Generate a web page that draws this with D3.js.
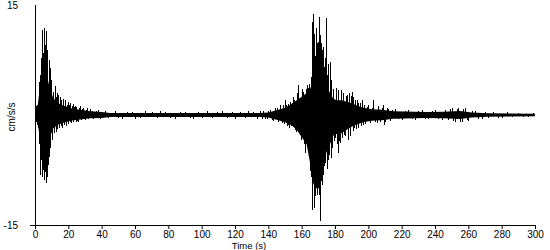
<!DOCTYPE html>
<html>
<head>
<meta charset="utf-8">
<script src="https://cdn.jsdelivr.net/npm/d3@7"></script>
<style>
  body { margin: 0; background: #fff; }
  svg text { font-family: "Liberation Sans", Arial, sans-serif; font-size: 10px; fill: #000; }
</style>
</head>
<body>
<div id="chart"></div>
<script>
// Solid core of the trace (cm/s/s)
var envTime  = [0, 1.5, 2.5, 3.5, 4.5, 6, 7.5, 9, 11, 14, 18, 22, 27, 33, 40, 45, 135, 140, 146, 150,
  154, 157, 160, 163, 165, 166.5, 168, 170.5, 171.5, 173, 175, 177, 179, 181, 184, 187, 190, 193, 197, 202,
  208, 215, 235, 245, 255, 262, 272, 300];
var envUpper = [0.6, 1.0, 3.0, 5.0, 6.0, 6.0, 5.0, 3.5, 2.3, 1.6, 1.2, 0.9, 0.7, 0.5, 0.4, 0.28, 0.28, 0.35, 0.7, 1.0,
  1.5, 2.0, 2.5, 3.0, 3.5, 4.5, 5.0, 5.0, 4.5, 4.5, 4.0, 3.0, 2.2, 2.0, 2.0, 1.8, 1.6, 1.3, 1.0, 0.8,
  0.7, 0.5, 0.4, 0.45, 0.55, 0.35, 0.25, 0.18];
var envLower = [-0.6, -0.8, -2.5, -4.5, -5.5, -6.0, -5.0, -3.0, -1.8, -1.3, -1.0, -0.75, -0.6, -0.45, -0.4, -0.28, -0.28, -0.35, -0.7, -1.0,
  -1.4, -2.0, -3.0, -4.0, -6.5, -9.0, -10.0, -10.0, -8.5, -6.5, -5.0, -4.0, -2.8, -2.6, -2.5, -2.0, -1.6, -1.3, -1.0, -0.8,
  -0.7, -0.5, -0.4, -0.45, -0.55, -0.35, -0.25, -0.18];

// Peaks sticking out of the core, [time s, value cm/s/s]
var earlySpikes = [[0.3,1.2],[0.6,-1.0],[0.9,1.4],[1.2,-1.3],[1.5,1.6],[1.8,-1.8],[2.1,3.0],[2.4,4.5],[2.6,-4.0],[2.8,-8.2],
  [3.0,5.5],[3.2,-5.0],[3.4,7.8],[3.6,-6.1],[3.8,6.5],[4.0,9.0],[4.2,-8.4],[4.4,11.6],[4.6,-6.5],[4.8,-7.5],
  [5.0,8.5],[5.2,7.0],[5.4,11.8],[5.6,-8.9],[5.8,-7.0],[6.0,9.5],[6.2,-7.8],[6.4,-9.3],[6.6,11.4],[6.8,7.5],
  [7.0,-8.4],[7.2,8.9],[7.4,6.8],[7.6,-6.8],[7.8,-5.5],[8.1,7.5],[8.3,-5.7],[8.5,5.5],[8.8,6.4],[9.0,-4.0],
  [9.2,-4.5],[9.5,4.0],[9.8,4.8],[10.0,-3.0],[10.2,-3.4],[10.5,3.0],[10.8,3.2],[11.1,-2.4],[11.5,-2.5],[11.8,2.6],
  [12.0,3.9],[12.3,-2.0],[12.5,-2.3],[12.8,2.4],[13.0,3.0],[13.4,-1.9],[13.8,2.7],[14.1,-1.6],[14.5,-1.8],[14.8,2.0],
  [15.0,2.4],[15.4,-1.5],[15.8,2.0],[16.2,-1.8],[16.6,1.8],[17.0,2.2],[17.4,-1.4],[17.8,2.0],[18.2,1.5],[18.5,-1.5],
  [19.0,1.4],[19.5,1.8],[20.0,-1.2],[20.4,1.3],[20.8,1.6],[21.2,-1.0],[21.5,-1.1],[22.0,1.2],[22.5,1.5],[23.0,-0.9],
  [23.5,1.1],[24.0,1.2],[24.4,-0.9],[24.8,1.1],[25.4,-0.8],[26.0,-0.9],[26.5,0.9],[27.0,1.2],[27.6,-0.7],[28.2,0.8],
  [28.8,1.0],[29.4,-0.6],[30.0,-0.7],[30.5,0.7],[31.0,0.9],[32.0,-0.6],[33.0,0.8],[34,0.6],[35,-0.6],[36.5,0.5],
  [38,0.7],[39,-0.5],[42,0.6],[44,-0.45]];
var quietSpikes = [[48,0.6],[50,-0.4],[52,-0.5],[55,0.4],[58,0.45],[60,-0.5],[63,-0.4],[66,0.5],[70,0.4],[73,-0.4],
  [75,0.5],[78,0.4],[81,-0.45],[84,-0.5],[87,0.4],[90,0.45],[93,-0.4],[95,-0.5],[98,0.4],[100,-0.4],
  [103,0.5],[106,-0.45],[109,0.4],[112,0.5],[115,-0.4],[118,0.4],[120,-0.5],[123,0.45],[126,-0.4],[128,0.5],
  [131,0.4],[133,-0.5]];
var mainSpikes = [[135,0.5],[136,-0.5],[137,0.6],[138,-0.5],[139,-0.6],[140,0.6],[141,0.7],[142,-0.7],[143,-0.8],[144,0.9],
  [145,1.0],[146,-0.9],[147,1.3],[148,-1.1],[149,1.3],[149.5,-1.2],[150,2.0],[150.5,1.4],[151,-1.5],[151.5,-1.3],
  [152,1.5],[152.5,-1.8],[153,1.8],[153.5,-1.5],[154,1.7],[154.5,-1.6],[155,2.5],[155.5,2.0],[156,-2.0],[156.5,-2.3],
  [157,3.0],[157.5,2.4],[158,4.1],[158.5,-2.4],[159,-2.6],[159.5,-3.4],[160,3.6],[160.5,2.9],[161,3.2],[161.5,-4.0],
  [162,-5.2],[162.5,3.5],[163,4.1],[163.5,-4.5],[164,3.7],[164.5,4.2],[165,-7.7],[165.3,5.2],[165.7,-8.5],[166,-13.0],
  [166.4,12.7],[166.7,7.5],[167,13.8],[167.2,-12.7],[167.6,11.1],[167.9,8.0],[168,-11.0],[168.3,7.0],[168.6,11.9],[169,9.8],
  [169.2,6.5],[169.4,-10.9],[169.8,10.0],[170,9.3],[170.3,-10.9],[170.6,13.4],[171,10.9],[171.2,-14.5],[171.6,9.8],[171.8,-9.0],
  [172,-9.5],[172.2,8.9],[172.6,-8.2],[173,9.3],[173.3,6.5],[173.5,-7.0],[174,7.8],[174.2,-6.5],[174.4,13.2],[174.8,6.0],
  [175,-7.3],[175.3,5.5],[175.6,-6.1],[176,7.0],[176.4,-5.5],[176.7,5.5],[177,7.2],[177.3,-5.9],[177.6,4.8],[178,-4.5],
  [178.4,-4.1],[178.7,3.5],[179,3.5],[179.5,-3.5],[180,-3.2],[180.3,3.0],[180.6,3.7],[181,-4.0],[181.5,-5.2],[182,3.4],
  [182.5,-3.5],[183,-3.8],[183.5,3.4],[184,-3.2],[184.5,2.8],[185,3.0],[185.5,-2.7],[186,-2.9],[186.5,2.6],[187,2.7],
  [187.5,-2.5],[188,-3.4],[188.5,3.0],[189,-2.9],[189.5,2.6],[190,3.2],[190.5,-2.2],[191,2.5],[191.6,-1.8],[192,2.0],
  [192.5,-1.9],[193,2.0],[193.5,1.7],[194,-1.8],[195,1.6],[195.5,-1.5],[196,2.0],[197,-1.4],[197.5,1.4],[198,-1.2],
  [199,1.1],[200,1.3],[201,-1.1],[202,1.0],[203,2.0],[204,-1.0],[205,-1.1],[206,1.2],[207,-0.9],[208,1.0],
  [209,1.4],[209.5,-1.4],[210,-0.9],[211,0.9],[212,0.8],[213,-0.8],[214,0.7]];
var tailSpikes = [[216,0.8],[218,-0.6],[220,-0.7],[222,0.6],[224,0.7],[226,-0.6],[228,-0.7],[230,0.6],[232,0.7],[234,-0.6],
  [236,-0.6],[238,0.6],[240,0.7],[242,-0.6],[244,-0.7],[246,0.7],[248,-0.7],[249,0.8],[250,0.9],[251,-0.8],
  [252,-0.9],[253,0.8],[254,0.9],[255,-0.9],[256,-1.0],[257,0.8],[258,0.9],[259,-0.7],[260,-0.8],[262,0.6],
  [264,0.5],[266,-0.5],[268,-0.5],[270,0.45],[272,-0.4],[275,0.4],[278,-0.35],[280,-0.35],[283,0.35],[286,-0.3],
  [290,0.3],[293,-0.3],[296,-0.3],[299,0.25]];

var xTicks = d3.range(0, 301, 20);

var width = 550, height = 250;
var svg = d3.select("#chart").append("svg")
    .attr("width", width)
    .attr("height", height);

var x = d3.scaleLinear().domain([0, 300]).range([35, 535]);
var y = d3.scaleLinear().domain([-15, 15]).range([225, 5]);

// trace core
var env = envTime.map(function(t, i) { return { t: t, hi: envUpper[i], lo: envLower[i] }; });
svg.append("path")
    .datum(env)
    .attr("d", d3.area()
      .x(function(d) { return x(d.t); })
      .y0(function(d) { return y(d.lo); })
      .y1(function(d) { return y(d.hi); }))
    .attr("fill", "#000");

// spikes
var spikes = earlySpikes.concat(quietSpikes, mainSpikes, tailSpikes);
svg.selectAll("line.spike")
    .data(spikes)
    .enter().append("line")
    .attr("class", "spike")
    .attr("x1", function(d) { return Math.round(x(d[0])) + 0.5; })
    .attr("x2", function(d) { return Math.round(x(d[0])) + 0.5; })
    .attr("y1", y(0))
    .attr("y2", function(d) { return y(d[1]); })
    .attr("stroke", "#000")
    .attr("stroke-width", 1)
    .attr("shape-rendering", "crispEdges");

// x axis
var xAxis = svg.append("g")
    .attr("transform", "translate(0," + y(-15) + ")")
    .call(d3.axisBottom(x).tickValues(xTicks).tickSize(4).tickPadding(2).tickSizeOuter(0));
xAxis.select(".domain").remove();
xAxis.selectAll("text").style("font-size", "10px").style("font-family", "'Liberation Sans', Arial, sans-serif");
xAxis.selectAll("line").attr("stroke", "#000");
svg.append("line")
    .attr("x1", 30).attr("x2", x(300))
    .attr("y1", y(-15) + 0.5).attr("y2", y(-15) + 0.5)
    .attr("stroke", "#000")
    .attr("shape-rendering", "crispEdges");

// y axis
svg.append("line")
    .attr("x1", x(0) + 0.5).attr("x2", x(0) + 0.5)
    .attr("y1", y(15)).attr("y2", y(-15))
    .attr("stroke", "#000")
    .attr("shape-rendering", "crispEdges");
svg.selectAll("text.ylab")
    .data([15, -15])
    .enter().append("text")
    .attr("class", "ylab")
    .attr("x", 18)
    .attr("y", function(d) { return y(d) + 4; })
    .attr("text-anchor", "end")
    .text(function(d) { return d; });

// axis titles
svg.append("text")
    .attr("x", 249)
    .attr("y", 249)
    .attr("text-anchor", "middle")
    .style("font-size", "9.5px")
    .text("Time (s)");
svg.append("text")
    .attr("transform", "translate(15,117) rotate(-90)")
    .attr("text-anchor", "middle")
    .text("cm/s/s");
</script>
</body>
</html>
